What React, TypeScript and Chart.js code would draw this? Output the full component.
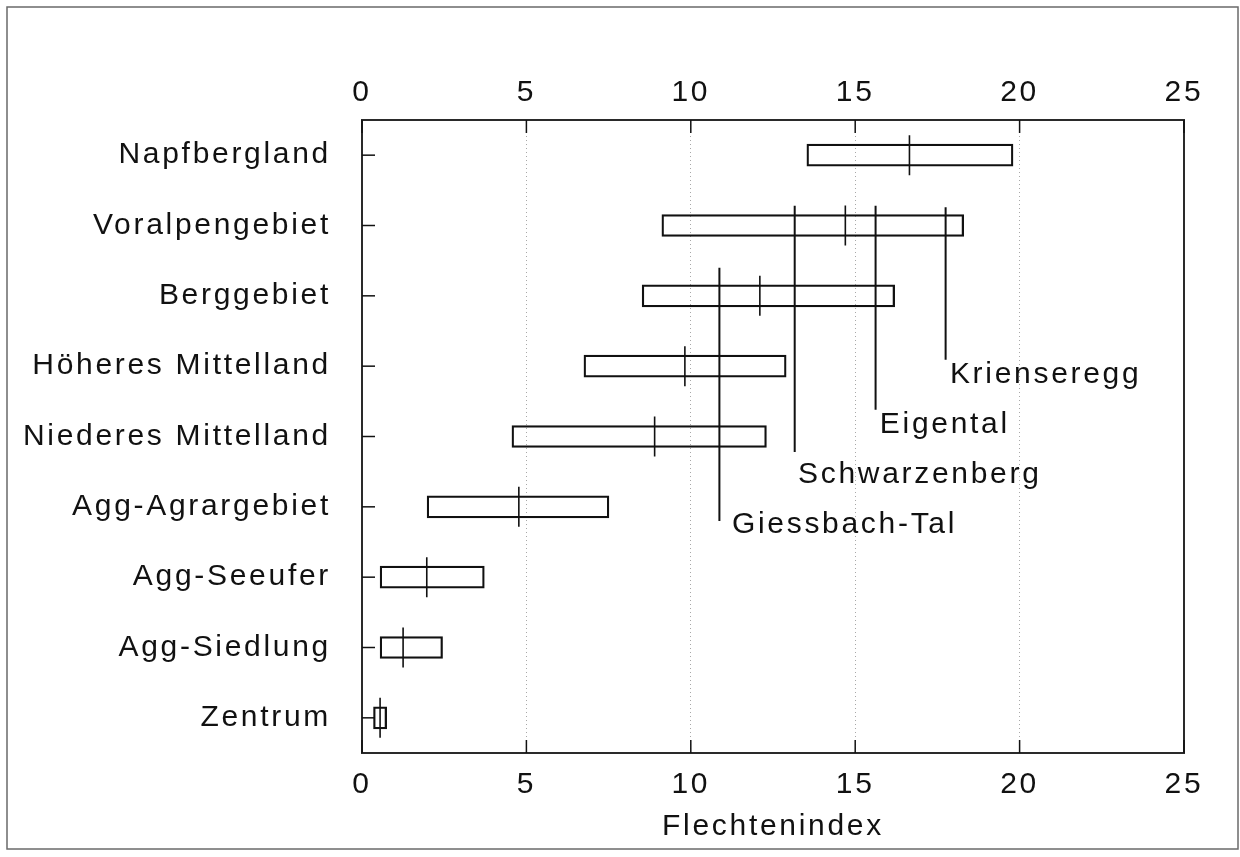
import React, { useEffect, useRef } from "react";
import { Chart, registerables } from "chart.js";

Chart.register(...registerables);

const categories = [
  "Napfbergland",
  "Voralpengebiet",
  "Berggebiet",
  "Höheres Mittelland",
  "Niederes Mittelland",
  "Agg-Agrargebiet",
  "Agg-Seeufer",
  "Agg-Siedlung",
  "Zentrum",
];
const boxLow = [13.53, 9.12, 8.52, 6.75, 4.56, 1.98, 0.55, 0.55, 0.35];
const boxHigh = [19.8, 18.3, 16.2, 12.9, 12.3, 7.51, 3.72, 2.45, 0.75];
const medians = [16.65, 14.7, 12.1, 9.82, 8.9, 4.77, 1.97, 1.25, 0.55];

const xTicks = [0, 5, 10, 15, 20, 25];

const siteNames = ["Giessbach-Tal", "Schwarzenberg", "Eigental", "Krienseregg"];
const siteValues = [10.87, 13.16, 15.62, 17.75];
// vertical extent of each site line, in category-index units
const siteTop = [1.6, 0.72, 0.72, 0.74];
const siteBottom = [5.2, 4.22, 3.62, 2.91];
// label anchor (x value, category-index baseline)
const siteLabelX = [11.25, 13.26, 15.75, 17.88];
const siteLabelY = [5.37, 4.66, 3.95, 3.24];

const FONT = '"Liberation Sans", Arial, Helvetica, sans-serif';
const LS = "2.7px";
const INK = "#111111";

const decorPlugin = {
  id: "decor",
  beforeLayout(chart: any) {
    chart.ctx.letterSpacing = LS;
  },
  beforeDraw(chart: any) {
    chart.ctx.letterSpacing = LS;
  },
  afterDraw(chart: any) {
    const { ctx, chartArea: a, scales } = chart;
    ctx.save();
    const line = (x1: number, y1: number, x2: number, y2: number) => {
      ctx.beginPath();
      ctx.moveTo(x1, y1);
      ctx.lineTo(x2, y2);
      ctx.stroke();
    };
    // plot frame
    ctx.strokeStyle = "#2a2a2a";
    ctx.lineWidth = 2;
    ctx.strokeRect(a.left, a.top, a.right - a.left, a.bottom - a.top);
    // inward ticks
    ctx.lineWidth = 1.5;
    ctx.strokeStyle = INK;
    const xs = scales.x;
    xs.ticks.forEach((t: any) => {
      const px = xs.getPixelForValue(t.value);
      line(px, a.top, px, a.top + 13);
      line(px, a.bottom, px, a.bottom - 13);
    });
    const ys = scales.y;
    ys.ticks.forEach((_t: any, i: number) => {
      const py = ys.getPixelForTick(i);
      line(a.left, py, a.left + 13, py);
    });
    // site labels
    const yl = scales.ys;
    ctx.letterSpacing = LS;
    ctx.font = `30px ${FONT}`;
    ctx.fillStyle = INK;
    ctx.textAlign = "left";
    ctx.textBaseline = "alphabetic";
    siteNames.forEach((n, i) => {
      ctx.fillText(n, xs.getPixelForValue(siteLabelX[i]), yl.getPixelForValue(siteLabelY[i]));
    });
    // outer frame
    ctx.strokeStyle = "#6a6a6a";
    ctx.lineWidth = 1.5;
    ctx.strokeRect(7, 7, 1231, 842);
    ctx.restore();
  },
};

export default function App() {
  const ref = useRef<HTMLCanvasElement>(null);

  useEffect(() => {
    if (!ref.current) return;
    const tickFont = { family: FONT, size: 30, lineHeight: 1.2 };
    const siteDatasets = siteNames.map((n, i) => ({
      type: "line" as const,
      label: n,
      indexAxis: "x",
      data: [
        { x: siteValues[i], y: siteTop[i] },
        { x: siteValues[i], y: siteBottom[i] },
      ],
      xAxisID: "x",
      yAxisID: "ys",
      borderColor: INK,
      borderWidth: 2,
      pointRadius: 0,
      fill: false,
    }));
    const chart = new Chart(ref.current, {
      type: "bar",
      data: {
        labels: categories,
        datasets: [
          {
            type: "bar",
            label: "Bereich",
            data: boxLow.map((l, i) => [l, boxHigh[i]]) as any,
            xAxisID: "x",
            yAxisID: "y",
            grouped: false,
            backgroundColor: "rgba(0,0,0,0)",
            borderColor: INK,
            borderWidth: 1.6,
            borderSkipped: false,
            barThickness: 22,
          } as any,
          {
            type: "line",
            label: "Median",
            data: medians.map((m, i) => ({ x: m, y: categories[i] })) as any,
            xAxisID: "x",
            yAxisID: "y",
            showLine: false,
            pointStyle: "line",
            rotation: 90,
            pointRadius: 20,
            pointBorderWidth: 1.6,
            borderColor: INK,
            backgroundColor: INK,
          } as any,
          ...(siteDatasets as any),
        ],
      },
      options: {
        indexAxis: "y",
        responsive: false,
        animation: false,
        events: [],
        layout: { padding: { left: 0, right: 56, top: 0, bottom: 0 } },
        plugins: { legend: { display: false }, tooltip: { enabled: false } },
        scales: {
          y: {
            type: "category",
            position: "left",
            offset: true,
            grid: { display: false, drawTicks: false },
            border: { display: false },
            ticks: { font: tickFont, color: INK, padding: 31, autoSkip: false },
            afterFit: (s: any) => {
              s.width = 362;
            },
          },
          ys: {
            type: "linear",
            position: "right",
            display: true,
            offset: false,
            min: -0.5,
            max: 8.5,
            reverse: true,
            grid: { display: false, drawTicks: false, offset: false },
            border: { display: false },
            ticks: { display: false },
            afterFit: (s: any) => {
              s.width = 0;
            },
          },
          x: {
            type: "linear",
            position: "bottom",
            offset: false,
            min: 0,
            max: 25,
            afterBuildTicks: (s: any) => {
              s.ticks = xTicks.map((v) => ({ value: v }));
            },
            grid: { color: "#a8a8a8", lineWidth: 1, drawTicks: false },
            border: { display: false, dash: [1, 3] },
            ticks: { font: tickFont, color: INK, padding: 14 },
            title: {
              display: true,
              text: "Flechtenindex",
              font: tickFont,
              color: INK,
              padding: { top: 0, bottom: 12 },
            },
            afterFit: (s: any) => {
              s.height = 104;
            },
          },
          x2: {
            type: "linear",
            position: "top",
            offset: false,
            min: 0,
            max: 25,
            afterBuildTicks: (s: any) => {
              s.ticks = xTicks.map((v) => ({ value: v }));
            },
            grid: { display: false, drawTicks: false },
            border: { display: false },
            ticks: { font: tickFont, color: INK, padding: 9 },
            afterFit: (s: any) => {
              s.height = 120;
            },
          },
        },
      } as any,
      plugins: [decorPlugin],
    });
    return () => chart.destroy();
  }, []);

  return (
    <div style={{ position: "fixed", left: 0, top: 0, width: 1240, height: 857, background: "#fff" }}>
      <canvas ref={ref} width={1240} height={857} style={{ display: "block" }} />
    </div>
  );
}
